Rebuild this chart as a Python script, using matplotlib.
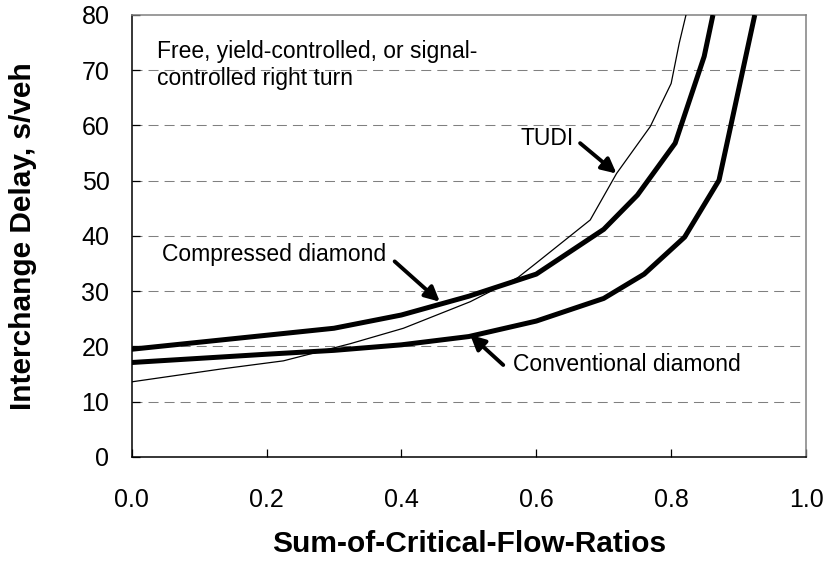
import matplotlib.pyplot as plt
import numpy as np

plt.rcParams['font.family'] = ['Liberation Sans', 'DejaVu Sans']

# series
conv_x = np.array([0.0, 0.2, 0.3, 0.4, 0.5, 0.6, 0.7, 0.76, 0.82, 0.871, 0.924])
conv_y = np.array([17.1, 18.6, 19.3, 20.3, 21.8, 24.6, 28.7, 33.1, 39.8, 50.1, 80.0])

comp_x = np.array([0.0, 0.3, 0.4, 0.5, 0.6, 0.7, 0.75, 0.806, 0.849, 0.862])
comp_y = np.array([19.5, 23.3, 25.7, 29.1, 33.1, 41.2, 47.4, 56.8, 72.5, 80.0])

tudi_x = np.array([0.0, 0.131, 0.225, 0.324, 0.403, 0.502, 0.573, 0.6, 0.68, 0.719, 0.769, 0.8, 0.812, 0.822])
tudi_y = np.array([13.6, 15.9, 17.4, 20.5, 23.3, 28.1, 32.5, 35.1, 42.9, 51.3, 59.8, 67.6, 74.9, 80.0])

x_ticks = [0.0, 0.2, 0.4, 0.6, 0.8, 1.0]
x_labels = ['0.0', '0.2', '0.4', '0.6', '0.8', '1.0']
y_ticks = [0, 10, 20, 30, 40, 50, 60, 70, 80]

fig = plt.figure(figsize=(8.26, 5.61), dpi=100)
ax = fig.add_axes([0.1594, 0.1854, 0.8164, 0.7879])

for yv in y_ticks[1:-1]:
    ax.axhline(yv, color='#808080', lw=0.75, linestyle=(0, (9.6, 5.8)), zorder=1)

ax.plot(conv_x, conv_y, color='black', lw=3.6, solid_joinstyle='round', solid_capstyle='butt', zorder=3)
ax.plot(comp_x, comp_y, color='black', lw=3.6, solid_joinstyle='round', solid_capstyle='butt', zorder=3)
ax.plot(tudi_x, tudi_y, color='black', lw=0.9, zorder=3)

ax.set_xlim(0, 1.0)
ax.set_ylim(0, 80)
ax.set_xticks(x_ticks)
ax.set_xticklabels(x_labels)
ax.set_yticks(y_ticks)
ax.tick_params(axis='x', direction='in', length=6, width=0.9, labelsize=18, pad=22)
ax.tick_params(axis='y', direction='in', length=6, width=0.9, labelsize=18, pad=16)

for s in ['left', 'bottom']:
    ax.spines[s].set_color('black')
    ax.spines[s].set_linewidth(1.1)
for s in ['top', 'right']:
    ax.spines[s].set_color('#808080')
    ax.spines[s].set_linewidth(1.1)

ax.set_xlabel('Sum-of-Critical-Flow-Ratios', fontsize=21.5, fontweight='bold', labelpad=13)
ax.set_ylabel('Interchange Delay, s/veh', fontsize=21.5, fontweight='bold', labelpad=32)

ax.text(0.038, 75.4, 'Free, yield-controlled, or signal-\ncontrolled right turn',
        fontsize=16.5, ha='left', va='top', linespacing=1.2)

arrow = dict(arrowstyle='-|>', lw=2.8, color='black', mutation_scale=22, shrinkA=0, shrinkB=0)
ax.text(0.616, 57.6, 'TUDI', fontsize=16.5, ha='center', va='center')
ax.annotate('', xy=(0.719, 51.3), xytext=(0.665, 56.8), arrowprops=arrow)

ax.text(0.211, 36.7, 'Compressed diamond', fontsize=16.5, ha='center', va='center')
ax.annotate('', xy=(0.457, 28.1), xytext=(0.39, 35.4), arrowprops=arrow)

ax.text(0.734, 16.7, 'Conventional diamond', fontsize=16.5, ha='center', va='center')
ax.annotate('', xy=(0.502, 22.1), xytext=(0.551, 16.65), arrowprops=arrow)

fig.savefig('out.png', dpi=100)
